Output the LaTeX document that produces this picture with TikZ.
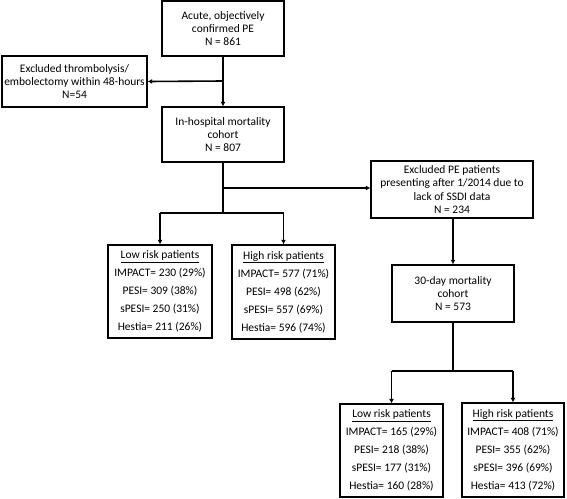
\documentclass[tikz,border=0pt]{standalone}
\usepackage{fontspec}
\setmainfont{Carlito}
\usetikzlibrary{arrows.meta}
\begin{document}
\begin{tikzpicture}[x=1pt,y=-1pt,
  box/.style={draw=black,line width=1.3pt,fill=white,align=center,inner sep=0pt,
    font=\fontsize{11.5}{13.2}\selectfont},
  riskbox/.style={box,font=\fontsize{11.5}{18}\selectfont},
  conn/.style={line width=1.6pt,draw=black},
  arr/.style={conn,-{Latex[length=4.5pt,width=5pt]}}]
\useasboundingbox (0,0) rectangle (567,498);
\node[box,minimum width=122pt,minimum height=55pt] (top) at (223,28.5)
  {Acute, objectively\\confirmed PE\\N = 861};
\node[box,minimum width=145pt,minimum height=51pt] (excl) at (74.5,81.5)
  {Excluded thrombolysis/\\embolectomy within 48-hours\\N=54};
\node[box,minimum width=122pt,minimum height=55pt] (hosp) at (223,134.5)
  {In-hospital mortality\\cohort\\N = 807};
\node[box,minimum width=162pt,minimum height=57pt] (exclpe) at (452,189.5)
  {Excluded PE patients\\presenting after 1/2014 due to\\lack of SSDI data\\N = 234};
\node[box,minimum width=122pt,minimum height=57pt] (thirty) at (453,293.5)
  {30-day mortality\\cohort\\N = 573};
\node[riskbox,minimum width=104pt,minimum height=93pt] (low1) at (160,291.5)
  {\underline{Low risk patients}\\IMPACT= 230 (29\%)\\PESI= 309 (38\%)\\sPESI= 250 (31\%)\\Hestia= 211 (26\%)};
\node[riskbox,minimum width=103pt,minimum height=94pt] (high1) at (283.5,292)
  {\underline{High risk patients}\\IMPACT= 577 (71\%)\\PESI= 498 (62\%)\\sPESI= 557 (69\%)\\Hestia= 596 (74\%)};
\node[riskbox,minimum width=103pt,minimum height=93pt] (low2) at (391.5,450.5)
  {\underline{Low risk patients}\\IMPACT= 165 (29\%)\\PESI= 218 (38\%)\\sPESI= 177 (31\%)\\Hestia= 160 (28\%)};
\node[riskbox,minimum width=102pt,minimum height=94pt] (high2) at (513,450)
  {\underline{High risk patients}\\IMPACT= 408 (71\%)\\PESI= 355 (62\%)\\sPESI= 396 (69\%)\\Hestia= 413 (72\%)};
\coordinate (j1) at (223,81);
\coordinate (j2) at (223,188);
\coordinate (j3) at (223,213);
\coordinate (l1) at (160,213);
\coordinate (h1) at (283.5,213);
\coordinate (j4) at (453,371);
\coordinate (l2) at (391.5,371);
\coordinate (h2) at (513,371);
\draw[arr] (top.south) -- (hosp.north);
\draw[arr] (j1) -- (excl.east);
\draw[conn] (hosp.south) -- (j3);
\draw[arr] (j2) -- (exclpe.west |- j2);
\draw[conn] (l1) -- (h1);
\draw[arr] (l1) -- (low1.north);
\draw[arr] (h1) -- (high1.north);
\draw[arr] (exclpe.south -| thirty.north) -- (thirty.north);
\draw[conn] (thirty.south) -- (j4);
\draw[conn] (l2) -- (h2);
\draw[arr] (l2) -- (low2.north);
\draw[arr] (h2) -- (high2.north);
\end{tikzpicture}
\end{document}
